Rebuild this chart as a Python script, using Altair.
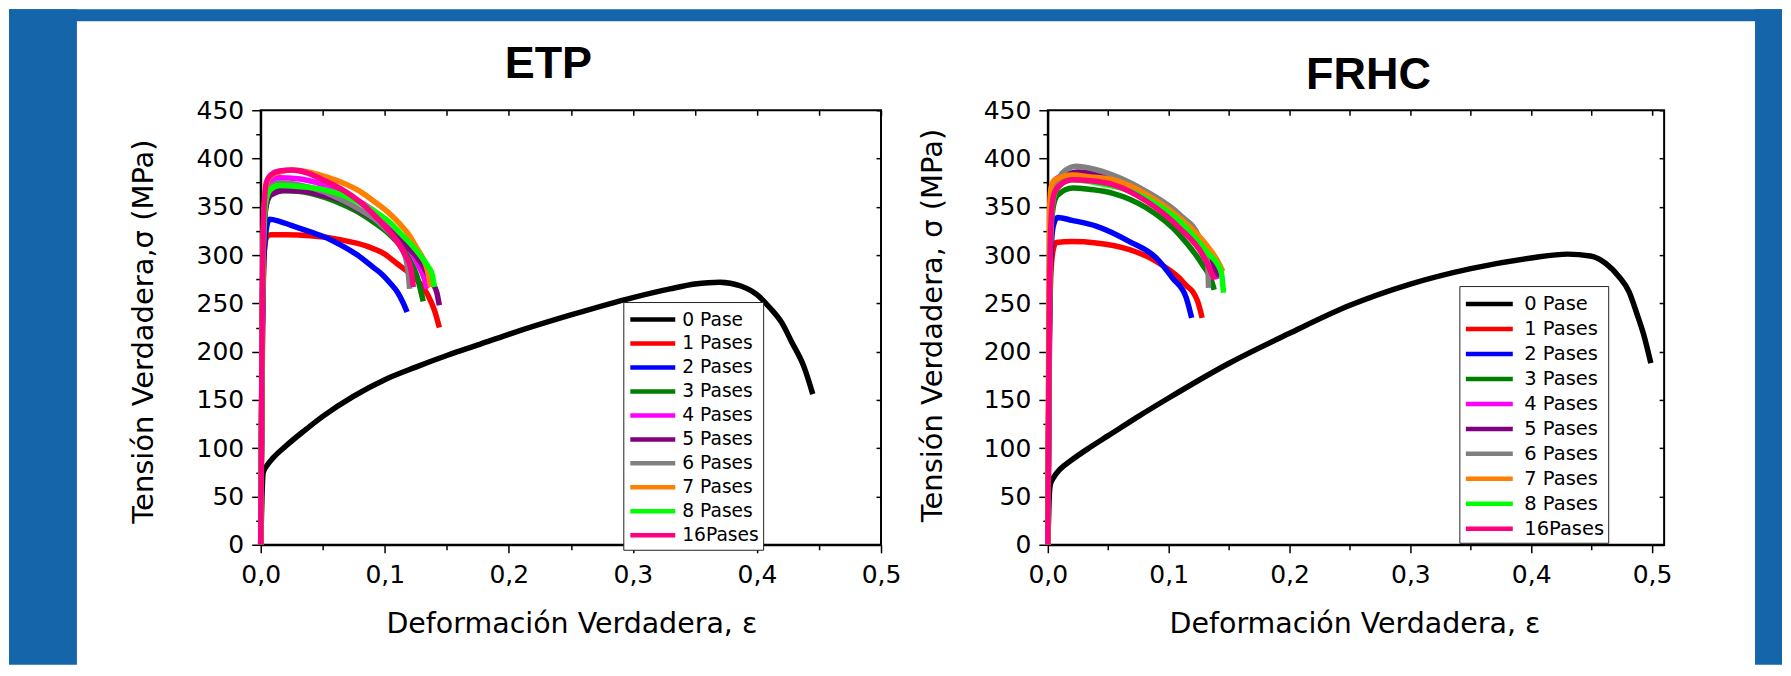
import altair as alt
import pandas as pd

SERIES = ["0 Pase", "1 Pases", "2 Pases", "3 Pases", "4 Pases",
          "5 Pases", "6 Pases", "7 Pases", "8 Pases", "16Pases"]
COLORS = ["#000000", "#FF0000", "#0000FF", "#008000", "#FF00FF",
          "#800080", "#808080", "#FF8000", "#00FF00", "#FF0080"]

# ---------------- ETP ----------------
etp0_x = [0, 0.001, 0.002, 0.005, 0.01, 0.02, 0.035, 0.05, 0.075, 0.1, 0.125, 0.15, 0.175, 0.2, 0.25, 0.3, 0.33, 0.35, 0.37, 0.387, 0.4, 0.41, 0.42, 0.428, 0.438, 0.445]
etp0_y = [0, 50, 75, 82, 90, 102, 118, 133, 154, 171, 184, 196, 207, 218, 238, 256, 265, 270, 272, 268, 259, 246, 230, 210, 184, 156]
etp1_x = [0, 0.0015, 0.003, 0.005, 0.008, 0.02, 0.04, 0.064, 0.086, 0.1, 0.11, 0.12, 0.129, 0.135, 0.14, 0.144]
etp1_y = [0, 220, 305, 319, 321, 321, 320, 316, 309, 301, 291, 281, 270, 258, 243, 225]
etp2_x = [0, 0.0012, 0.0025, 0.0045, 0.007, 0.015, 0.024, 0.04, 0.051, 0.065, 0.078, 0.09, 0.097, 0.105, 0.11, 0.115, 0.118]
etp2_y = [0, 200, 295, 327, 337, 335, 331, 324, 319, 310, 300, 288, 281, 270, 262, 250, 241]
etp3_x = [0, 0.0012, 0.0025, 0.0045, 0.008, 0.015, 0.03, 0.051, 0.065, 0.078, 0.09, 0.105, 0.118, 0.126, 0.131]
etp3_y = [0, 220, 320, 352, 363, 367, 366, 360, 353, 345, 335, 320, 300, 278, 252]
etp4_x = [0, 0.0012, 0.0025, 0.0045, 0.008, 0.015, 0.03, 0.05, 0.07, 0.09, 0.105, 0.118, 0.127, 0.132, 0.134]
etp4_y = [0, 230, 335, 366, 376, 380, 379, 373, 362, 347, 330, 310, 290, 275, 265]
etp5_x = [0, 0.0012, 0.0025, 0.0045, 0.008, 0.02, 0.035, 0.05, 0.064, 0.08, 0.095, 0.105, 0.117, 0.126, 0.133, 0.138, 0.142, 0.144]
etp5_y = [0, 220, 320, 352, 362, 367, 366, 362, 357, 346, 334, 324, 310, 298, 284, 272, 261, 248]
etp6_x = [0, 0.0012, 0.0025, 0.0045, 0.008, 0.015, 0.03, 0.05, 0.064, 0.08, 0.091, 0.1, 0.11, 0.117, 0.119, 0.12]
etp6_y = [0, 225, 328, 360, 370, 375, 373, 366, 358, 347, 338, 328, 314, 296, 280, 265]
etp7_x = [0, 0.0012, 0.0025, 0.0045, 0.008, 0.015, 0.025, 0.038, 0.05, 0.064, 0.08, 0.091, 0.103, 0.113, 0.12, 0.126, 0.131, 0.134, 0.137]
etp7_y = [0, 235, 340, 372, 382, 386, 388, 386, 382, 376, 366, 356, 344, 331, 320, 307, 296, 286, 267]
etp8_x = [0, 0.0012, 0.0025, 0.0045, 0.008, 0.015, 0.03, 0.05, 0.064, 0.08, 0.091, 0.103, 0.113, 0.122, 0.129, 0.135, 0.138, 0.14]
etp8_y = [0, 225, 327, 358, 368, 372, 371, 368, 363, 354, 346, 335, 322, 310, 299, 288, 281, 267]
etp16_x = [0, 0.0012, 0.0025, 0.0045, 0.008, 0.015, 0.025, 0.038, 0.05, 0.064, 0.08, 0.091, 0.1, 0.11, 0.117, 0.121, 0.123]
etp16_y = [0, 240, 345, 375, 383, 387, 388, 385, 378, 369, 355, 342, 330, 314, 299, 286, 267]

# ---------------- FRHC ----------------
fr0_x = [0, 0.001, 0.002, 0.005, 0.01, 0.02, 0.035, 0.05, 0.075, 0.1, 0.15, 0.2, 0.25, 0.3, 0.35, 0.4, 0.43, 0.449, 0.462, 0.473, 0.481, 0.487, 0.493, 0.499]
fr0_y = [0, 45, 62, 70, 78, 88, 101, 113, 133, 152, 188, 219, 248, 270, 286, 297, 301, 299, 291, 277, 262, 241, 218, 188]
fr1_x = [0, 0.0012, 0.0025, 0.0045, 0.007, 0.02, 0.04, 0.0676, 0.0897, 0.1, 0.109, 0.115, 0.12, 0.124, 0.1277]
fr1_y = [0, 190, 280, 306, 313, 314, 312.6, 305.7, 293.6, 285, 276, 268, 262, 252, 235]
fr2_x = [0, 0.0012, 0.0025, 0.0045, 0.008, 0.02, 0.04, 0.0676, 0.0897, 0.1034, 0.1145, 0.119]
fr2_y = [0, 205, 300, 330, 339, 336, 330, 314, 297, 276, 256, 235]
fr3_x = [0, 0.0012, 0.0025, 0.0045, 0.008, 0.0207, 0.035, 0.0538, 0.0814, 0.109, 0.128, 0.135, 0.1377]
fr3_y = [0, 220, 320, 350, 362, 369.5, 368, 364, 349, 321, 290, 275, 264]
fr4_x = [0, 0.001, 0.002, 0.004, 0.008, 0.02, 0.04, 0.0814, 0.109, 0.128, 0.138, 0.14]
fr4_y = [0, 240, 340, 372, 380, 384, 381, 364, 340, 312, 285, 275]
fr5_x = [0, 0.0012, 0.0025, 0.0045, 0.01, 0.025, 0.04, 0.0814, 0.109, 0.128, 0.138, 0.14]
fr5_y = [0, 225, 330, 365, 378, 386, 384, 365, 340, 313, 288, 277]
fr6_x = [0, 0.0012, 0.0025, 0.0045, 0.008, 0.012, 0.0235, 0.035, 0.0538, 0.0814, 0.109, 0.1255, 0.1323, 0.133]
fr6_y = [0, 220, 325, 360, 375, 385, 392, 390, 383, 366, 342, 318, 290, 266]
fr7_x = [0, 0.0008, 0.0015, 0.003, 0.006, 0.0207, 0.035, 0.0538, 0.0814, 0.109, 0.131, 0.14, 0.1448]
fr7_y = [0, 250, 350, 372, 378, 383, 381, 378, 363, 338.5, 311, 295, 283]
fr8_x = [0, 0.0012, 0.0025, 0.0045, 0.008, 0.02, 0.04, 0.0814, 0.109, 0.131, 0.1434, 0.1454]
fr8_y = [0, 225, 328, 358, 370, 378, 375, 359, 335, 304, 283, 261]
fr16_x = [0, 0.0012, 0.0025, 0.0045, 0.008, 0.02, 0.035, 0.0538, 0.0814, 0.109, 0.128, 0.1377]
fr16_y = [0, 228, 330, 360, 370, 378, 377, 373, 356, 328, 300.5, 275]

ETP_X = [etp0_x, etp1_x, etp2_x, etp3_x, etp4_x, etp5_x, etp6_x, etp7_x, etp8_x, etp16_x]
ETP_Y = [etp0_y, etp1_y, etp2_y, etp3_y, etp4_y, etp5_y, etp6_y, etp7_y, etp8_y, etp16_y]
FR_X = [fr0_x, fr1_x, fr2_x, fr3_x, fr4_x, fr5_x, fr6_x, fr7_x, fr8_x, fr16_x]
FR_Y = [fr0_y, fr1_y, fr2_y, fr3_y, fr4_y, fr5_y, fr6_y, fr7_y, fr8_y, fr16_y]

X_TICKS = [0, 0.05, 0.1, 0.15, 0.2, 0.25, 0.3, 0.35, 0.4, 0.45, 0.5]
Y_TICKS = list(range(0, 451, 25))
Y_TICKS_RIGHT = list(range(0, 451, 50))

FONT = "DejaVu Sans"
BLUE = "#1565AB"
PLOT_H = 435


def panel_df(xs_list, ys_list):
    rows = []
    for k, (name, xs, ys) in enumerate(zip(SERIES, xs_list, ys_list)):
        for i, (x, y) in enumerate(zip(xs, ys)):
            rows.append({"x": x, "y": y, "serie": name, "k": k, "i": i})
    return pd.DataFrame(rows)


def panel(df, xmax, width, title_txt, tx, ty, ytitle, ytx, yty, xtx,
          legx, legy, lab_fs, sym_size, lab_off, row_pad, with_strips):
    xsc = alt.Scale(domain=[0, xmax], nice=False, zero=False)
    ysc = alt.Scale(domain=[0, 450], nice=False, zero=False)
    xaxis = alt.Axis(
        values=X_TICKS,
        labelExpr="round(datum.value*100) % 10 == 0 ? replace(format(datum.value, '.1f'), '.', ',') : ''",
        tickSize={"condition": {"test": "round(datum.value*100) % 10 == 0", "value": 8}, "value": 5},
        labelPadding=10, labelFontSize=25, labelFont=FONT, labelColor="black",
        labelFlush=False, labelOverlap=False, labelBound=False,
        domainColor="black", domainWidth=2, tickColor="black", tickWidth=1.5,
        grid=False, title="Deformación Verdadera, ε", titleFont=FONT,
        titleFontSize=28.5, titleFontWeight="normal", titleColor="black",
        titleX=xtx, titleY=79, titleBaseline="middle", titleAlign="center")
    yaxis = alt.Axis(
        values=Y_TICKS,
        labelExpr="datum.value % 50 == 0 ? datum.label : ''",
        tickSize={"condition": {"test": "datum.value % 50 == 0", "value": 9}, "value": 5},
        labelPadding=8, labelFontSize=25, labelFont=FONT, labelColor="black",
        labelFlush=False, labelOverlap=False, labelBound=False,
        domainColor="black", domainWidth=2, tickColor="black", tickWidth=1.5,
        grid=False, title=ytitle, titleFont=FONT, titleFontSize=29,
        titleFontWeight="normal", titleColor="black", titleAngle=270,
        titleX=ytx, titleY=yty, titleBaseline="middle", titleAlign="center")
    top_axis = alt.Axis(orient="top", values=X_TICKS, labels=False, domain=False,
                        tickSize=5, offset=-5, tickColor="black", tickWidth=1.5,
                        grid=False, title=None)
    right_axis = alt.Axis(orient="right", values=Y_TICKS_RIGHT, labels=False, domain=False,
                          tickSize=5, offset=-5, tickColor="black", tickWidth=1.5,
                          grid=False, title=None)

    legend = alt.Legend(
        orient="none", legendX=legx, legendY=legy, title=None, direction="vertical",
        fillColor="white", strokeColor="#222222", padding=4,
        symbolType="M-2,0H2", symbolSize=sym_size, symbolStrokeWidth=4.5,
        symbolOffset=12, labelOffset=lab_off, rowPadding=row_pad,
        labelFont=FONT, labelFontSize=lab_fs, labelColor="black", labelLimit=0)

    lines = alt.Chart(df).mark_line(strokeWidth=5.5, interpolate="monotone", strokeJoin="round").encode(
        x=alt.X("x:Q", scale=xsc, axis=xaxis),
        y=alt.Y("y:Q", scale=ysc, axis=yaxis),
        color=alt.Color("serie:N", scale=alt.Scale(domain=SERIES, range=COLORS), legend=legend),
        order=alt.Order("i:Q"),
    )
    ticks = alt.Chart(df.head(2)).mark_point(opacity=0).encode(
        x=alt.X("x:Q", scale=xsc, axis=top_axis),
        y=alt.Y("y:Q", scale=ysc, axis=right_axis),
    )
    title_df = pd.DataFrame({"t": [title_txt]})
    title = alt.Chart(title_df).mark_text(
        font="Liberation Sans", fontSize=45, fontWeight="bold", align="center",
        baseline="alphabetic", color="black").encode(
        text="t:N", x=alt.value(tx), y=alt.value(ty))

    layers = []
    if with_strips:
        one = pd.DataFrame({"a": [0]})
        for (x1, x2, y1, y2) in [(-252, -184, -101, 555), (-252, 1523, -101, -89), (1496, 1523, -101, 555)]:
            layers.append(alt.Chart(one).mark_rect(color=BLUE).encode(
                x=alt.value(x1), x2=alt.value(x2), y=alt.value(y1), y2=alt.value(y2)))
    layers += [lines, ticks, title]
    return alt.layer(*layers).resolve_axis(x="independent", y="independent").properties(
        width=width, height=PLOT_H)


left = panel(panel_df(ETP_X, ETP_Y), 0.5, 621, "ETP", 288, -32,
             "Tensión Verdadera,σ (MPa)", -117, 221, 311,
             363, 192, 18.7, 506, 16, -0.5, True)
right = panel(panel_df(FR_X, FR_Y), 0.51, 617, "FRHC", 321, -21,
              "Tensión Verdadera, σ (MPa)", -115, 215, 307,
              412, 176, 19.5, 552, 21, 1, False)

chart = alt.hconcat(left, right, spacing=167, bounds="flush").resolve_scale(
    color="independent").resolve_legend(color="independent").properties(
    padding=0, background="white"
).configure_view(stroke="black", strokeWidth=2)

chart.save("out.html", embed_options={"renderer": "svg", "actions": False})
